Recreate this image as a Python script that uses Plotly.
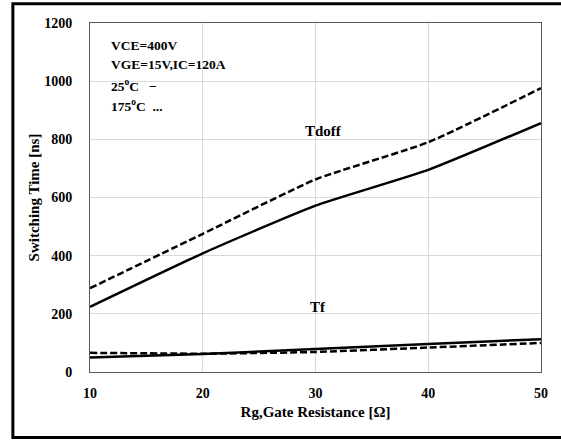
import plotly.graph_objects as go

rg = [10, 20, 30, 40, 50]
tdoff_25 = [224, 408, 572, 695, 856]
tdoff_175 = [288, 475, 662, 790, 976]
tf_25 = [50, 62, 79, 96, 113]
tf_175 = [66, 63, 69, 84, 100]

x_ticks = [10, 20, 30, 40, 50]
y_ticks = [0, 200, 400, 600, 800, 1000, 1200]

FONT = "Liberation Serif"

fig = go.Figure()
for y, dash in [(tdoff_25, "solid"), (tdoff_175, "7px,3px"), (tf_25, "solid"), (tf_175, "7px,3px")]:
    fig.add_trace(go.Scatter(x=rg, y=y, mode="lines",
                             line=dict(color="black", width=2.5, dash=dash, shape="spline", smoothing=0.5),
                             showlegend=False))

ann_font = dict(family=FONT, size=13.5, color="black")
notes = [("<b>VCE=400V</b>", 1122), ("<b>VGE=15V,IC=120A</b>", 1058),
         ("<b>25<sup>o</sup>C   −</b>", 984), ("<b>175<sup>o</sup>C  ...</b>", 916)]
for t, yv in notes:
    fig.add_annotation(x=11.7, y=yv, text=t, showarrow=False, xanchor="left", yanchor="middle", font=ann_font)
fig.add_annotation(x=30.75, y=829, text="<b>Tdoff</b>", showarrow=False, font=dict(family=FONT, size=15, color="black"))
fig.add_annotation(x=30.25, y=223, text="<b>Tf</b>", showarrow=False, font=dict(family=FONT, size=15, color="black"))

# outer frame
fig.add_shape(type="rect", xref="paper", yref="paper", x0=-0.171, x1=1.05, y0=-0.188, y1=1.055,
              line=dict(color="black", width=3), layer="above")

fig.update_xaxes(range=[10, 50], tickvals=x_ticks, ticktext=[f"<b>{v}</b>" for v in x_ticks],
                 showgrid=True, gridcolor="#d9d9d9", gridwidth=1,
                 showline=True, linecolor="#595959", linewidth=1, mirror=True,
                 ticks="", ticklabelstandoff=8, zeroline=False,
                 tickfont=dict(family=FONT, size=14, color="black"),
                 title=dict(text="<b>Rg,Gate Resistance [Ω]</b>", font=dict(family=FONT, size=15, color="black"), standoff=6))
fig.update_yaxes(range=[0, 1200], tickvals=y_ticks, ticktext=[f"<b>{v}</b>" for v in y_ticks],
                 showgrid=True, gridcolor="#d9d9d9", gridwidth=1,
                 showline=True, linecolor="#595959", linewidth=1, mirror=True,
                 ticks="", ticklabelstandoff=14, zeroline=False,
                 tickfont=dict(family=FONT, size=14, color="black"),
                 title=dict(text="<b>Switching Time [ns]</b>", font=dict(family=FONT, size=15, color="black"), standoff=0))

fig.update_layout(width=561, height=442, margin=dict(l=90, r=20, t=23, b=70),
                  plot_bgcolor="white", paper_bgcolor="white")

fig.write_html("out.html", config={"displayModeBar": False},
               post_script="document.body.style.margin='0px';document.body.style.overflow='hidden';")
